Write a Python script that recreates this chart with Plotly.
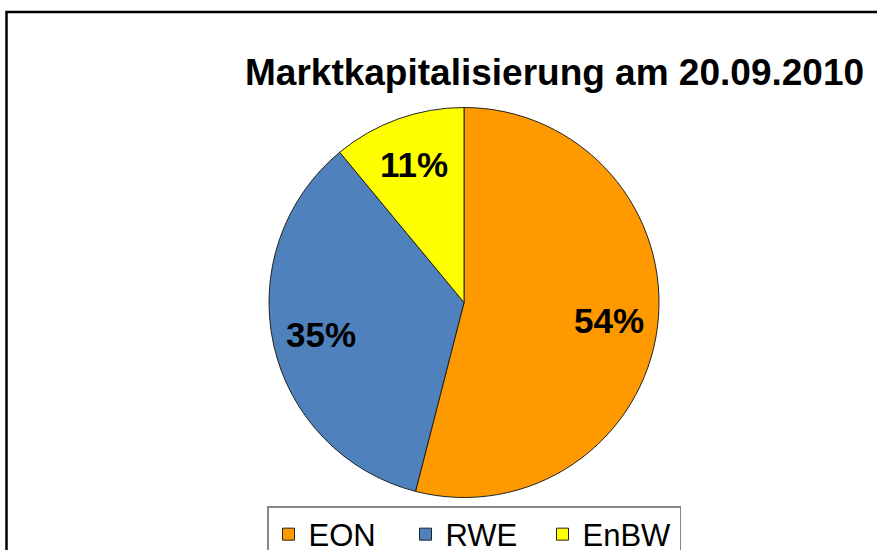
import math
import plotly.graph_objects as go

W, H = 877, 550

title_text = "Marktkapitalisierung am 20.09.2010"
companies = ["EON", "RWE", "EnBW"]
shares = [54, 35, 11]
colors = ["#FF9900", "#4F81BD", "#FFFF00"]


def px(x):
    return x / W


def py(y):
    return 1 - y / H


# pie geometry (pixels)
CX, CY, R = 464, 302.5, 195
LABEL_R = 0.75

fig = go.Figure(
    go.Pie(
        labels=companies,
        values=shares,
        sort=False,
        direction="clockwise",
        rotation=0,
        marker=dict(colors=colors, line=dict(color="#222222", width=1)),
        textinfo="none",
        domain=dict(x=[px(CX - R), px(CX + R)], y=[py(CY + R), py(CY - R)]),
        hoverinfo="label+percent",
    )
)

# percentage labels placed at each slice's mid-angle (computed from the data)
annotations = []
total = sum(shares)
cum = 0
for name, v in zip(companies, shares):
    mid = (cum + v / 2) / total * 2 * math.pi
    cum += v
    lx = CX + LABEL_R * R * math.sin(mid)
    ly = CY - LABEL_R * R * math.cos(mid)
    annotations.append(
        dict(
            text=f"{round(v / total * 100)}%",
            x=px(lx),
            y=py(ly),
            xref="paper",
            yref="paper",
            xanchor="center",
            yanchor="middle",
            showarrow=False,
            font=dict(family="Liberation Sans, Arial, sans-serif", size=35, color="black", weight="bold"),
        )
    )

annotations.append(
    dict(
        text=title_text,
        x=px(554),
        y=py(73),
        xref="paper",
        yref="paper",
        xanchor="center",
        yanchor="middle",
        showarrow=False,
        font=dict(family="Liberation Sans, Arial, sans-serif", size=37, color="black", weight="bold"),
    )
)

fig.update_layout(
    width=W,
    height=H,
    margin=dict(l=0, r=0, t=0, b=0, autoexpand=False),
    paper_bgcolor="white",
    plot_bgcolor="white",
    showlegend=True,
    legend=dict(
        orientation="h",
        x=px(267),
        y=py(506),
        xanchor="left",
        yanchor="top",
        bordercolor="#888888",
        borderwidth=1.5,
        entrywidth=92,
        font=dict(family="Liberation Sans, Arial, sans-serif", size=31, color="black"),
        itemclick=False,
    ),
    annotations=annotations,
    shapes=[
        dict(
            type="rect",
            xref="paper",
            yref="paper",
            x0=px(6.5),
            x1=px(900),
            y0=py(600),
            y1=py(12),
            line=dict(color="black", width=2.5),
            fillcolor="rgba(0,0,0,0)",
            layer="above",
        )
    ],
)

fig.write_html(
    "out.html",
    config={"displayModeBar": False},
    post_script="document.body.style.margin='0';document.body.style.overflow='hidden';",
)
